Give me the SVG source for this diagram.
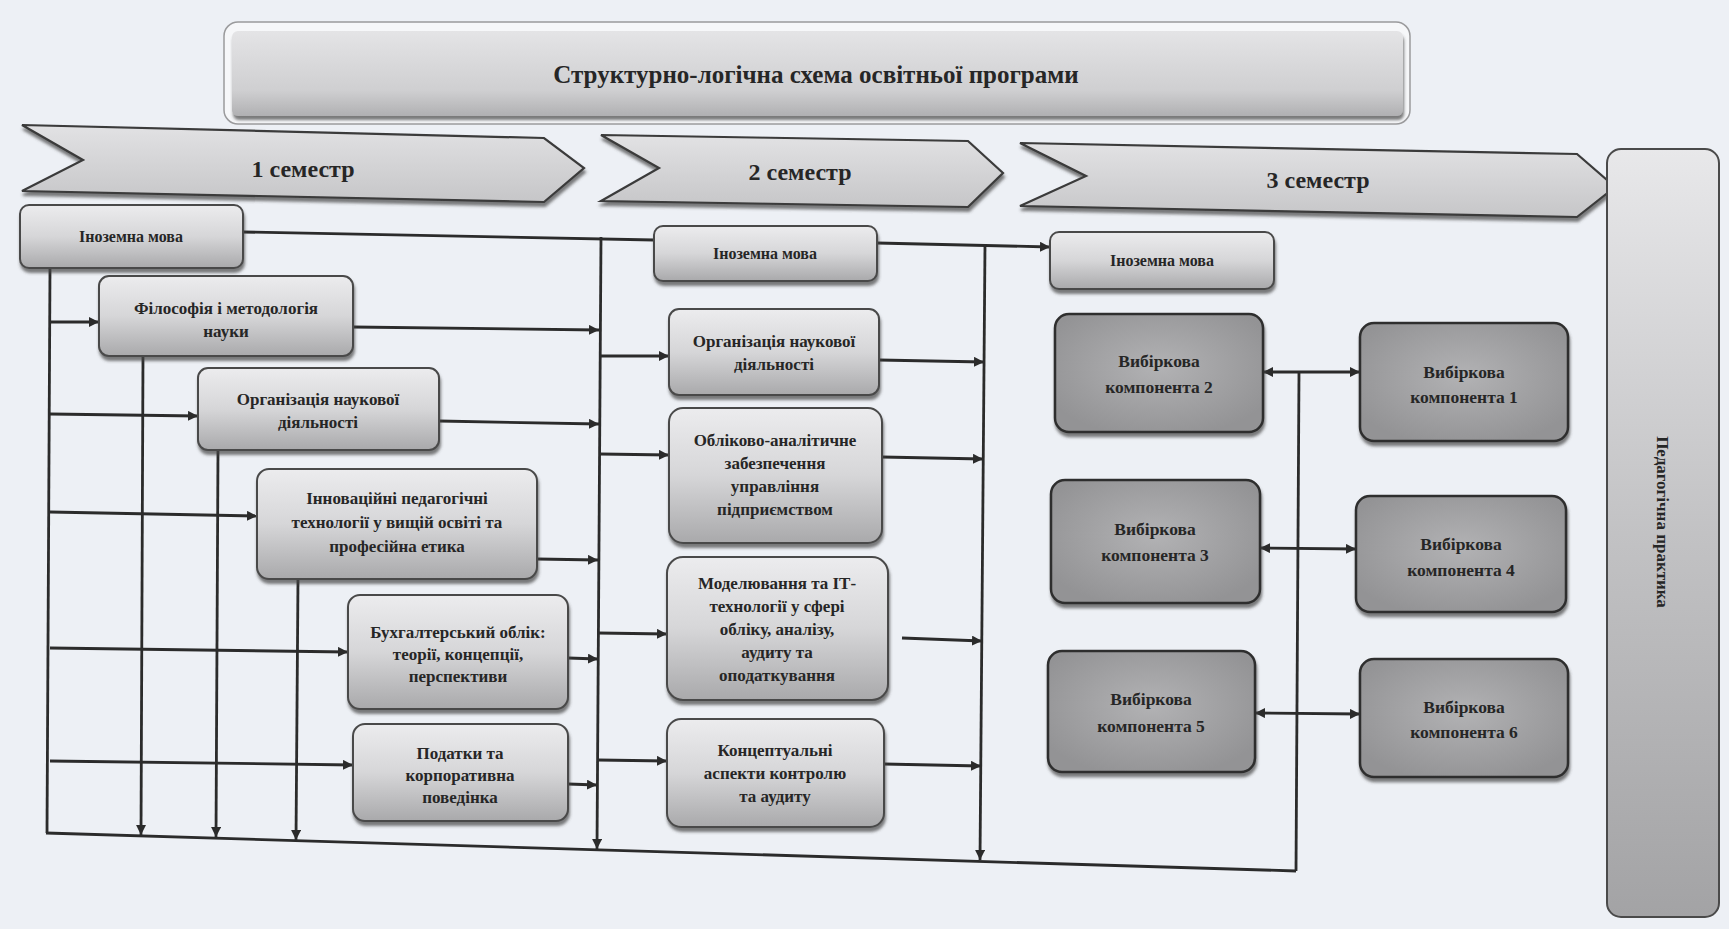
<svg xmlns="http://www.w3.org/2000/svg" width="1729" height="929" viewBox="0 0 1729 929">
<style>
text{font-family:"Liberation Serif","Times New Roman",serif;font-weight:bold;fill:#262626;text-anchor:middle}
.lb{fill:url(#gLight);stroke:#4a4a4a;stroke-width:2}
.dk{fill:url(#gDark);stroke:#2f2f2f;stroke-width:2.5}
.t15{font-size:17px}
.t14{font-size:16px}
.t18{font-size:17.5px}
.sem{font-size:24px}
.ln{fill:none;stroke:#2b2b2b;stroke-width:2.8}
.ar{marker-end:url(#ah)}
.bi{marker-end:url(#ah);marker-start:url(#ah)}
.chev{fill:url(#gChev);stroke:#3a3a3a;stroke-width:2.2}
</style>
<defs>
<linearGradient id="gLight" x1="0" y1="0" x2="0" y2="1">
<stop offset="0" stop-color="#ececee"/>
<stop offset="0.5" stop-color="#d6d6d8"/>
<stop offset="1" stop-color="#a9a9ab"/>
</linearGradient>
<radialGradient id="gDark" cx="0.5" cy="0.45" r="0.6">
<stop offset="0" stop-color="#b2b2b4"/>
<stop offset="1" stop-color="#939395"/>
</radialGradient>
<linearGradient id="gChev" x1="0" y1="0" x2="0" y2="1">
<stop offset="0" stop-color="#e2e2e4"/>
<stop offset="1" stop-color="#c6c6c8"/>
</linearGradient>
<linearGradient id="gTitle" x1="0" y1="0" x2="0" y2="1">
<stop offset="0" stop-color="#e4e4e6"/>
<stop offset="0.7" stop-color="#cfcfd1"/>
<stop offset="1" stop-color="#b0b0b2"/>
</linearGradient>
<linearGradient id="gBar" x1="0" y1="0" x2="0" y2="1">
<stop offset="0" stop-color="#e8e8ea"/>
<stop offset="0.5" stop-color="#c2c2c4"/>
<stop offset="1" stop-color="#a3a3a5"/>
</linearGradient>
<filter id="sh" x="-10%" y="-10%" width="120%" height="130%">
<feDropShadow dx="1" dy="4" stdDeviation="1.5" flood-color="#444" flood-opacity="0.7"/>
</filter>
<marker id="ah" viewBox="0 0 10 10" refX="10" refY="5" markerWidth="10" markerHeight="10" markerUnits="userSpaceOnUse" orient="auto-start-reverse">
<path d="M0,0 L10,5 L0,10 z" fill="#2b2b2b"/>
</marker>
</defs>
<rect width="1729" height="929" fill="#edf0f5"/>

<g id="title">
<rect x="224" y="22" width="1186" height="102" rx="14" fill="#f6f7f9" stroke="#9a9a9c" stroke-width="1.5"/>
<rect x="232" y="31" width="1171" height="85" rx="6" fill="url(#gTitle)" filter="url(#sh)"/>
<text x="816" y="83" style="font-size:25px">Структурно-логічна схема освітньої програми</text>
</g>

<g id="sem1">
<polygon class="chev" points="22,125 544,138 584,168 544,202 22,191 83,160" filter="url(#sh)"/>
<text class="sem" x="303" y="177">1 семестр</text>
</g>
<g id="sem2">
<polygon class="chev" points="601,135 968,141 1003,173 968,207 601,201 659,168" filter="url(#sh)"/>
<text class="sem" x="800" y="180">2 семестр</text>
</g>
<g id="sem3">
<polygon class="chev" points="1020,143 1577,154 1615,187 1577,217 1020,206 1086,176" filter="url(#sh)"/>
<text class="sem" x="1318" y="188">3 семестр</text>
</g>

<g id="practice">
<rect x="1607" y="149" width="112" height="768" rx="14" fill="url(#gBar)" stroke="#4a4a4a" stroke-width="2"/>
<text transform="translate(1663,522) rotate(90)" y="6" style="font-size:17px">Педагогічна практика</text>
</g>

<g id="connectors">
<path class="ln" d="M243,232 L654,240"/>
<path class="ln ar" d="M877,243 L1050,247"/>
<path class="ln" d="M50,268 L47,833"/>
<path class="ln" d="M46,833 L1296,871"/>
<path class="ln ar" d="M143,356 L141,835"/>
<path class="ln ar" d="M218,450 L216,837"/>
<path class="ln ar" d="M298,579 L296,840"/>
<path class="ln ar" d="M601,237 L597,849"/>
<path class="ln ar" d="M985,245 L980,860"/>
<path class="ln" d="M1299,372 L1296,871"/>
<path class="ln ar" d="M50,322 L99,322"/>
<path class="ln ar" d="M50,414 L198,416"/>
<path class="ln ar" d="M50,512 L257,516"/>
<path class="ln ar" d="M50,648 L348,652"/>
<path class="ln ar" d="M50,761 L353,765"/>
<path class="ln ar" d="M353,327 L599,330"/>
<path class="ln ar" d="M439,421 L599,424"/>
<path class="ln ar" d="M537,559 L598,560"/>
<path class="ln ar" d="M568,658 L598,659"/>
<path class="ln ar" d="M568,784 L597,785"/>
<path class="ln ar" d="M600,356 L669,356"/>
<path class="ln ar" d="M600,454 L669,455"/>
<path class="ln ar" d="M598,633 L667,634"/>
<path class="ln ar" d="M598,760 L667,761"/>
<path class="ln ar" d="M879,360 L984,362"/>
<path class="ln ar" d="M882,457 L983,459"/>
<path class="ln ar" d="M902,638 L982,641"/>
<path class="ln ar" d="M884,764 L981,766"/>
<path class="ln bi" d="M1263,372 L1360,372"/>
<path class="ln bi" d="M1260,548 L1356,549"/>
<path class="ln bi" d="M1255,713 L1360,714"/>
</g>

<g id="s1-lang">
<rect class="lb" x="20" y="205" width="223" height="63" rx="9" filter="url(#sh)"/>
<text class="t14" x="131" y="242">Іноземна мова</text>
</g>
<g id="s1-phil">
<rect class="lb" x="99" y="276" width="254" height="80" rx="10" filter="url(#sh)"/>
<text class="t15" x="226" y="314">Філософія і методологія</text>
<text class="t15" x="226" y="337">науки</text>
</g>
<g id="s1-org">
<rect class="lb" x="198" y="368" width="241" height="82" rx="10" filter="url(#sh)"/>
<text class="t15" x="318" y="405">Організація наукової</text>
<text class="t15" x="318" y="428">діяльності</text>
</g>
<g id="s1-innov">
<rect class="lb" x="257" y="469" width="280" height="110" rx="12" filter="url(#sh)"/>
<text class="t15" x="397" y="504">Інноваційні педагогічні</text>
<text class="t15" x="397" y="528">технології у вищій освіті та</text>
<text class="t15" x="397" y="552">професійна етика</text>
</g>
<g id="s1-acc">
<rect class="lb" x="348" y="595" width="220" height="114" rx="12" filter="url(#sh)"/>
<text class="t15" x="458" y="638">Бухгалтерський облік:</text>
<text class="t15" x="458" y="660">теорії, концепції,</text>
<text class="t15" x="458" y="682">перспективи</text>
</g>
<g id="s1-tax">
<rect class="lb" x="353" y="724" width="215" height="97" rx="12" filter="url(#sh)"/>
<text class="t15" x="460" y="759">Податки та</text>
<text class="t15" x="460" y="781">корпоративна</text>
<text class="t15" x="460" y="803">поведінка</text>
</g>

<g id="s2-lang">
<rect class="lb" x="654" y="226" width="223" height="55" rx="9" filter="url(#sh)"/>
<text class="t14" x="765" y="259">Іноземна мова</text>
</g>
<g id="s2-org">
<rect class="lb" x="669" y="309" width="210" height="86" rx="10" filter="url(#sh)"/>
<text class="t15" x="774" y="347">Організація наукової</text>
<text class="t15" x="774" y="370">діяльності</text>
</g>
<g id="s2-anal">
<rect class="lb" x="669" y="408" width="213" height="135" rx="14" filter="url(#sh)"/>
<text class="t15" x="775" y="446">Обліково-аналітичне</text>
<text class="t15" x="775" y="469">забезпечення</text>
<text class="t15" x="775" y="492">управління</text>
<text class="t15" x="775" y="515">підприємством</text>
</g>
<g id="s2-model">
<rect class="lb" x="667" y="557" width="221" height="143" rx="16" filter="url(#sh)"/>
<text class="t15" x="777" y="589">Моделювання та ІТ-</text>
<text class="t15" x="777" y="612">технології у сфері</text>
<text class="t15" x="777" y="635">обліку, аналізу,</text>
<text class="t15" x="777" y="658">аудиту та</text>
<text class="t15" x="777" y="681">оподаткування</text>
</g>
<g id="s2-audit">
<rect class="lb" x="667" y="719" width="217" height="108" rx="14" filter="url(#sh)"/>
<text class="t15" x="775" y="756">Концептуальні</text>
<text class="t15" x="775" y="779">аспекти контролю</text>
<text class="t15" x="775" y="802">та аудиту</text>
</g>

<g id="s3-lang">
<rect class="lb" x="1050" y="232" width="224" height="57" rx="9" filter="url(#sh)"/>
<text class="t14" x="1162" y="266">Іноземна мова</text>
</g>
<g id="vk2">
<rect class="dk" x="1055" y="314" width="208" height="118" rx="14" filter="url(#sh)"/>
<text class="t18" x="1159" y="367">Вибіркова</text>
<text class="t18" x="1159" y="393">компонента 2</text>
</g>
<g id="vk1">
<rect class="dk" x="1360" y="323" width="208" height="118" rx="14" filter="url(#sh)"/>
<text class="t18" x="1464" y="378">Вибіркова</text>
<text class="t18" x="1464" y="403">компонента 1</text>
</g>
<g id="vk3">
<rect class="dk" x="1051" y="480" width="209" height="123" rx="14" filter="url(#sh)"/>
<text class="t18" x="1155" y="535">Вибіркова</text>
<text class="t18" x="1155" y="561">компонента 3</text>
</g>
<g id="vk4">
<rect class="dk" x="1356" y="496" width="210" height="116" rx="14" filter="url(#sh)"/>
<text class="t18" x="1461" y="550">Вибіркова</text>
<text class="t18" x="1461" y="576">компонента 4</text>
</g>
<g id="vk5">
<rect class="dk" x="1048" y="651" width="207" height="121" rx="14" filter="url(#sh)"/>
<text class="t18" x="1151" y="705">Вибіркова</text>
<text class="t18" x="1151" y="732">компонента 5</text>
</g>
<g id="vk6">
<rect class="dk" x="1360" y="659" width="208" height="118" rx="14" filter="url(#sh)"/>
<text class="t18" x="1464" y="713">Вибіркова</text>
<text class="t18" x="1464" y="738">компонента 6</text>
</g>
</svg>
